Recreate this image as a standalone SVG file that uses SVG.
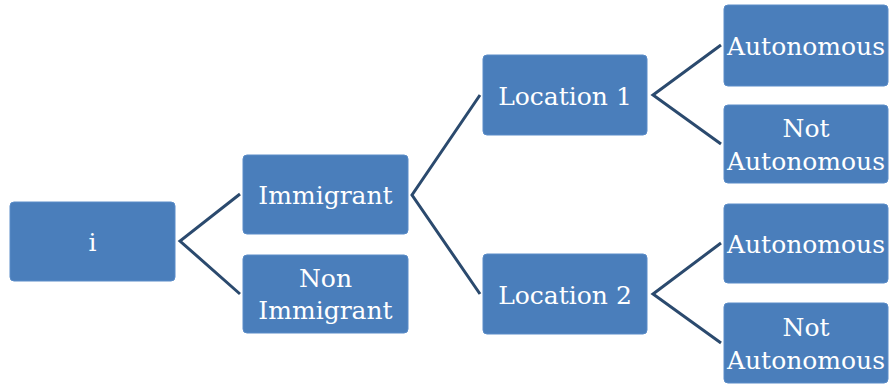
<svg xmlns="http://www.w3.org/2000/svg" width="889" height="385" viewBox="0 0 889 385">
<style>
.box{fill:#4a7ebb;stroke:#5a8cc8;stroke-width:1}
.t{font-family:"DejaVu Serif",serif;font-size:25px;fill:#ffffff;text-anchor:middle}
.c{fill:none;stroke:#2b4a6e;stroke-width:3;stroke-linejoin:miter}
</style>
<rect width="889" height="385" fill="#ffffff"/>
<g id="connectors">
<polyline class="c" points="240,194 180,241 240,294"/>
<polyline class="c" points="480,95 412,195 480,294"/>
<polyline class="c" points="721,45 653,95 721,144"/>
<polyline class="c" points="721,243 653,294 721,343"/>
</g>
<g id="n-i"><rect class="box" x="10" y="202" width="165" height="79" rx="4"/><text class="t" x="92.5" y="251">i</text></g>
<g id="n-immigrant"><rect class="box" x="243" y="155" width="165" height="79" rx="4"/><text class="t" x="325.5" y="204">Immigrant</text></g>
<g id="n-nonimmigrant"><rect class="box" x="243" y="255" width="165" height="78" rx="4"/><text class="t" x="325.5" y="287">Non</text><text class="t" x="325.5" y="319">Immigrant</text></g>
<g id="n-location1"><rect class="box" x="483" y="55" width="164" height="80" rx="4"/><text class="t" x="565" y="105">Location 1</text></g>
<g id="n-location2"><rect class="box" x="483" y="254" width="164" height="80" rx="4"/><text class="t" x="565" y="304">Location 2</text></g>
<g id="n-auto1"><rect class="box" x="724" y="5" width="164" height="81" rx="4"/><text class="t" x="806" y="55">Autonomous</text></g>
<g id="n-notauto1"><rect class="box" x="724" y="105" width="164" height="78" rx="4"/><text class="t" x="806" y="137">Not</text><text class="t" x="806" y="170">Autonomous</text></g>
<g id="n-auto2"><rect class="box" x="724" y="204" width="164" height="79" rx="4"/><text class="t" x="806" y="253">Autonomous</text></g>
<g id="n-notauto2"><rect class="box" x="724" y="303" width="164" height="80" rx="4"/><text class="t" x="806" y="336">Not</text><text class="t" x="806" y="369">Autonomous</text></g>
</svg>
